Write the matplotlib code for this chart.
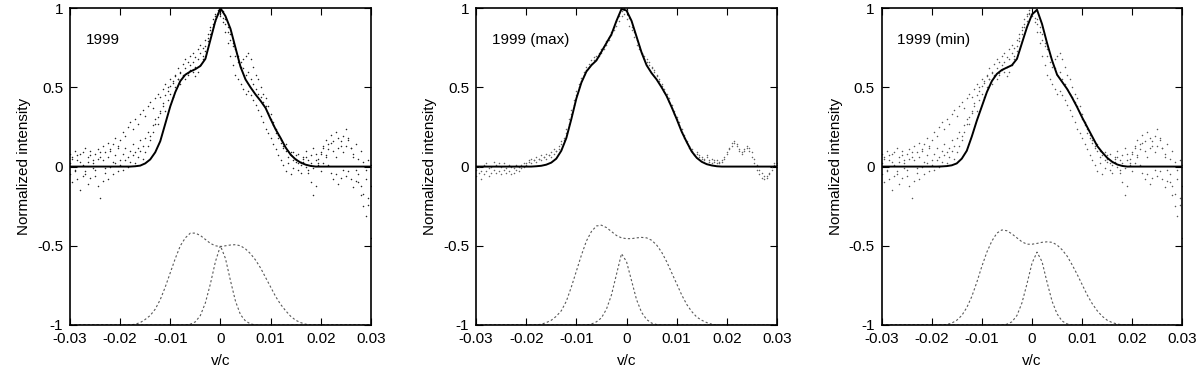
import numpy as np
import matplotlib
matplotlib.use("Agg")
import matplotlib.pyplot as plt

plt.rcParams['font.family'] = ['Liberation Sans', 'DejaVu Sans']
plt.rcParams['axes.unicode_minus'] = False

# Velocity grids ---------------------------------------------------------------
# model curves sampled every 0.001, observed spectra every 0.0005
x_model = np.linspace(-0.03, 0.03, 61)
x_obs = np.linspace(-0.03, 0.03, 121)

# Panel 1: 1999 ---------------------------------------------------------------
model_1999 = [0.0] * 12 + [
    0.0, 0.002, 0.006, 0.02, 0.045, 0.09, 0.16, 0.27, 0.38, 0.47,
    0.54, 0.58, 0.60, 0.615, 0.635, 0.68, 0.80, 0.92, 1.0, 0.95,
    0.87, 0.75, 0.63, 0.55, 0.50, 0.455, 0.415, 0.37, 0.30, 0.235,
    0.18, 0.12, 0.075, 0.045, 0.025, 0.012, 0.004] + [0.0] * 12
broad_1999 = [-1.0] * 13 + [
    -0.995, -0.985, -0.965, -0.94, -0.90, -0.84, -0.76, -0.67, -0.58, -0.50,
    -0.45, -0.42, -0.42, -0.435, -0.46, -0.485, -0.50, -0.505, -0.50, -0.495,
    -0.493, -0.50, -0.52, -0.55, -0.59, -0.64, -0.70, -0.76, -0.82, -0.87,
    -0.91, -0.945, -0.97, -0.985, -0.995] + [-1.0] * 13
narrow_1999 = [-1.0] * 24 + [
    -0.995, -0.98, -0.94, -0.86, -0.74, -0.60, -0.50, -0.58, -0.72, -0.85,
    -0.935, -0.975, -0.993] + [-1.0] * 24

# Panel 2: 1999 (max) ---------------------------------------------------------
model_max = [0.0] * 12 + [
    0.002, 0.005, 0.012, 0.025, 0.05, 0.10, 0.18, 0.30, 0.43, 0.53,
    0.60, 0.64, 0.67, 0.725, 0.78, 0.835, 0.92, 0.995, 0.985, 0.92,
    0.82, 0.72, 0.64, 0.59, 0.55, 0.50, 0.445, 0.375, 0.30, 0.22,
    0.155, 0.095, 0.055, 0.03, 0.015, 0.007, 0.002] + [0.0] * 12
broad_max = [-1.0] * 13 + [
    -0.995, -0.985, -0.97, -0.945, -0.91, -0.85, -0.76, -0.66, -0.56, -0.47,
    -0.41, -0.375, -0.37, -0.385, -0.41, -0.435, -0.45, -0.455, -0.455, -0.45,
    -0.447, -0.45, -0.465, -0.495, -0.54, -0.60, -0.67, -0.74, -0.81, -0.87,
    -0.915, -0.95, -0.97, -0.985, -0.995] + [-1.0] * 13
narrow_max = [-1.0] * 23 + [
    -0.994, -0.98, -0.955, -0.90, -0.81, -0.68, -0.55, -0.60, -0.72, -0.84,
    -0.92, -0.965, -0.988, -0.997] + [-1.0] * 24

# Panel 3: 1999 (min) ---------------------------------------------------------
model_min = [0.0] * 12 + [
    0.001, 0.003, 0.008, 0.02, 0.05, 0.10, 0.19, 0.29, 0.38, 0.47,
    0.54, 0.585, 0.61, 0.625, 0.64, 0.68, 0.78, 0.88, 0.96, 0.99,
    0.90, 0.78, 0.67, 0.58, 0.535, 0.49, 0.435, 0.375, 0.31, 0.25,
    0.19, 0.13, 0.09, 0.055, 0.03, 0.013, 0.004] + [0.0] * 12
broad_min = [-1.0] * 13 + [
    -0.997, -0.988, -0.97, -0.94, -0.89, -0.82, -0.73, -0.63, -0.54, -0.47,
    -0.42, -0.40, -0.405, -0.425, -0.45, -0.475, -0.49, -0.49, -0.485, -0.478,
    -0.475, -0.478, -0.495, -0.525, -0.565, -0.62, -0.68, -0.745, -0.81, -0.865,
    -0.91, -0.945, -0.97, -0.985, -0.994, -0.999] + [-1.0] * 12
narrow_min = [-1.0] * 25 + [
    -0.995, -0.98, -0.94, -0.86, -0.74, -0.61, -0.54, -0.60, -0.73, -0.85,
    -0.93, -0.975, -0.993] + [-1.0] * 23

obs_a = [
    0.02, 0.06, -0.03, 0.04, 0.08, 0.01, -0.05, 0.03, 0.07, 0.02,
    -0.02, 0.05, 0.09, 0.04, -0.01, 0.06, 0.10, 0.03, 0.07, 0.12,
    0.04, 0.08, 0.12, 0.06, 0.10, 0.14, 0.09, 0.12, 0.17, 0.13,
    0.18, 0.22, 0.19, 0.26, 0.30, 0.27, 0.34, 0.38, 0.35, 0.42,
    0.46, 0.44, 0.50, 0.55, 0.52, 0.58, 0.62, 0.59, 0.64, 0.66,
    0.63, 0.68, 0.72, 0.70, 0.76, 0.81, 0.86, 0.90, 0.95, 0.97,
    1.0, 0.98, 0.93, 0.88, 0.84, 0.78, 0.74, 0.70, 0.66, 0.62,
    0.58, 0.60, 0.55, 0.52, 0.49, 0.46, 0.44, 0.41, 0.38, 0.34,
    0.30, 0.26, 0.21, 0.18, 0.15, 0.12, 0.14, 0.10, 0.07, 0.09,
    0.05, 0.08, 0.03, 0.06, 0.10, 0.04, 0.07, 0.12, 0.08, 0.05,
    0.09, 0.13, 0.07, 0.11, 0.15, 0.10, 0.06, 0.12, 0.16, 0.09,
    0.13, 0.18, 0.12, 0.08, 0.14, 0.05, 0.10, 0.03, -0.02, 0.04, 0.01]
obs_b = [
    0.08, 0.05, 0.10, 0.07, 0.03, 0.09, 0.12, 0.06, 0.10, 0.04,
    0.08, 0.11, 0.06, 0.13, 0.09, 0.15, 0.11, 0.14, 0.18, 0.13,
    0.17, 0.22, 0.19, 0.25, 0.28, 0.24, 0.30, 0.27, 0.33, 0.36,
    0.32, 0.38, 0.41, 0.37, 0.43, 0.46, 0.44, 0.49, 0.52, 0.50,
    0.55, 0.53, 0.58, 0.62, 0.60, 0.65, 0.68, 0.66, 0.70, 0.72,
    0.69, 0.74, 0.77, 0.75, 0.80, 0.84, 0.88, 0.93, 0.96, 0.99,
    0.97, 0.94, 0.90, 0.85, 0.80, 0.76, 0.70, 0.66, 0.63, 0.68,
    0.70, 0.72, 0.68, 0.63, 0.58, 0.55, 0.50, 0.46, 0.43, 0.38,
    0.33, 0.28, 0.24, 0.20, 0.17, 0.13, 0.10, 0.06, 0.09, 0.04,
    0.07, 0.02, -0.04, 0.03, 0.06, -0.02, -0.10, -0.18, -0.12, 0.02,
    0.08, 0.12, 0.17, 0.14, 0.20, 0.16, 0.22, 0.18, 0.13, 0.19,
    0.24, 0.17, 0.12, 0.06, -0.02, -0.10, -0.18, -0.25, -0.31, -0.24, -0.12]
obs_c = [
    -0.05, -0.10, -0.02, -0.08, -0.15, -0.06, -0.03, -0.11, -0.07, -0.01,
    -0.06, -0.12, -0.20, -0.09, -0.04, -0.08, 0.00, -0.05, 0.02, -0.03,
    0.01, -0.02, 0.04, 0.00, 0.03, 0.07, 0.02, 0.06, 0.10, 0.05,
    0.09, 0.13, 0.17, 0.22, 0.27, 0.31, 0.35, 0.40, 0.45, 0.48,
    0.51, 0.54, 0.57, 0.55, 0.59, 0.57, 0.55, 0.58, 0.61, 0.60,
    0.57, 0.60, 0.64, 0.68, 0.73, 0.79, 0.84, 0.88, 0.92, 0.96,
    0.95, 0.91, 0.85, 0.78, 0.70, 0.64, 0.58, 0.55, 0.52, 0.49,
    0.46, 0.48, 0.45, 0.42, 0.39, 0.36, 0.32, 0.28, 0.24, 0.21,
    0.18, 0.14, 0.11, 0.07, 0.04, 0.01, -0.03, 0.02, -0.05, -0.01,
    0.03, -0.02, 0.01, 0.05, 0.00, -0.04, 0.02, -0.01, 0.04, 0.01,
    -0.03, 0.02, 0.06, 0.01, -0.04, -0.08, -0.05, -0.11, -0.07, -0.02,
    -0.06, -0.03, -0.08, -0.13, -0.09, -0.05, -0.12, -0.17, -0.08, -0.20, -0.45]
obs_d = [
    -0.02, 0.00, -0.03, 0.01, 0.02, -0.01, 0.00, 0.03, 0.01, 0.02,
    0.00, 0.02, -0.01, 0.01, 0.00, -0.01, 0.01, 0.00, 0.01, 0.02,
    0.01, 0.04, 0.05, 0.04, 0.06, 0.05, 0.07, 0.06, 0.08, 0.07,
    0.09, 0.11, 0.10, 0.13, 0.16, 0.18, 0.24, 0.30, 0.36, 0.42,
    0.48, 0.52, 0.56, 0.60, 0.63, 0.65, 0.67, 0.69, 0.70, 0.72,
    0.74, 0.76, 0.79, 0.82, 0.85, 0.88, 0.92, 0.95, 0.98, 1.0,
    0.99, 0.94, 0.88, 0.82, 0.77, 0.74, 0.72, 0.70, 0.68, 0.66,
    0.63, 0.61, 0.58, 0.55, 0.52, 0.49, 0.46, 0.43, 0.39, 0.35,
    0.31, 0.28, 0.24, 0.20, 0.16, 0.13, 0.11, 0.08, 0.09, 0.07,
    0.06, 0.05, 0.07, 0.04, 0.05, 0.03, 0.04, 0.02, 0.03, 0.05,
    0.08, 0.11, 0.13, 0.15, 0.14, 0.11, 0.09, 0.11, 0.13, 0.12,
    0.09, 0.05, 0.01, -0.02, -0.04, -0.06, -0.07, -0.05, -0.02, 0.01, 0.02]
obs_e = [
    -0.06, -0.04, -0.08, -0.05, -0.03, -0.06, -0.04, -0.02, -0.04, -0.03,
    -0.05, -0.02, -0.04, -0.03, -0.05, -0.04, -0.02, -0.03, -0.01, 0.00,
    0.02, 0.03, 0.02, 0.04, 0.03, 0.05, 0.04, 0.06, 0.05, 0.07,
    0.06, 0.08, 0.10, 0.11, 0.14, 0.17, 0.21, 0.27, 0.33, 0.39,
    0.45, 0.50, 0.54, 0.58, 0.61, 0.63, 0.65, 0.67, 0.68, 0.70,
    0.72, 0.74, 0.77, 0.80, 0.83, 0.86, 0.89, 0.92, 0.95, 0.96,
    0.93, 0.89, 0.86, 0.85, 0.80, 0.76, 0.71, 0.68, 0.66, 0.64,
    0.62, 0.60, 0.57, 0.54, 0.51, 0.47, 0.44, 0.41, 0.37, 0.33,
    0.30, 0.26, 0.22, 0.18, 0.15, 0.12, 0.10, 0.07, 0.08, 0.06,
    0.05, 0.04, 0.06, 0.03, 0.02, 0.04, 0.02, 0.03, 0.04, 0.06,
    0.09, 0.12, 0.15, 0.16, 0.13, 0.10, 0.08, 0.10, 0.12, 0.10,
    0.06, 0.02, -0.02, -0.05, -0.07, -0.08, -0.06, -0.04, 0.00, 0.02, 0.01]

panels = [
    ('1999', [obs_a, obs_b, obs_c], '0.15', model_1999, broad_1999, narrow_1999),
    ('1999 (max)', [obs_d, obs_e], '0.4', model_max, broad_max, narrow_max),
    ('1999 (min)', [obs_a, obs_b, obs_c], '0.35', model_min, broad_min, narrow_min),
]

xticks = [-0.03, -0.02, -0.01, 0, 0.01, 0.02, 0.03]
xticklabels = ['-0.03', '-0.02', '-0.01', '0', '0.01', '0.02', '0.03']
yticks = [-1, -0.5, 0, 0.5, 1]
yticklabels = ['-1', '-0.5', '0', '0.5', '1']

fig = plt.figure(figsize=(12, 3.71), dpi=100)
lefts = [0.0583, 0.3967, 0.7346]

for left, (label, spectra, dotcol, model, broad, narrow) in zip(lefts, panels):
    ax = fig.add_axes([left, 0.124, 0.2508, 0.854])

    for spec in spectra:
        ax.plot(x_obs, spec, linestyle='none', marker='.', markersize=2.2,
                markeredgewidth=0, color=dotcol)

    ax.plot(x_model, model, color='black', linewidth=1.4)
    # model components, drawn under the frame so the flat parts hide in it
    ax.plot(x_model, broad, color='0.35', linewidth=0.8,
            linestyle=(0, (2, 2)), zorder=1)
    ax.plot(x_model, narrow, color='0.35', linewidth=0.8,
            linestyle=(0, (2, 2)), zorder=1)

    ax.text(0.052, 0.9, label, transform=ax.transAxes, fontsize=11,
            va='center', ha='left')

    ax.set_xlim(-0.03, 0.03)
    ax.set_ylim(-1, 1)
    ax.set_xticks(xticks, xticklabels)
    ax.set_yticks(yticks, yticklabels)
    ax.tick_params(direction='in', top=True, right=True, length=5,
                   width=0.8, labelsize=11, pad=5)
    for sp in ax.spines.values():
        sp.set_linewidth(1.2)
        sp.set_zorder(3)
    ax.set_xlabel('v/c', fontsize=11, labelpad=6)
    ax.set_ylabel('Normalized intensity', fontsize=11, labelpad=4)

fig.savefig('out.png', dpi=100)
